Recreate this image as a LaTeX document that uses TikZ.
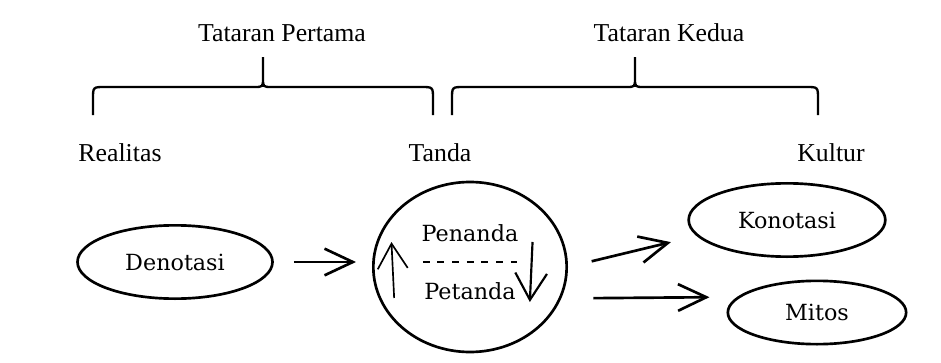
\documentclass[tikz,border=0pt]{standalone}
\usepackage{fontspec}
\setmainfont{Liberation Serif}
\newfontfamily\isifont{DejaVu Serif}
\usetikzlibrary{shapes.geometric,arrows.meta,calc}
\newcommand{\kurawal}[3]{%
  \draw[brace line](#1,115)--(#1,99)..controls(#1,87)..(#1+12,87)--(#2-9,87)..controls(#2,87)..(#2,78)--(#2,57)
    (#2,78)..controls(#2,87)..(#2+9,87)--(#3-12,87)..controls(#3,87)..(#3,99)--(#3,115);}
\begin{document}
\begin{tikzpicture}[x=0.03cm,y=-0.03cm,
    label/.style={font=\fontsize{22}{26}\selectfont},
    bubble/.style={ellipse,draw,line width=0.8mm,inner sep=0pt,font=\isifont\fontsize{19}{23}\selectfont},
    isi/.style={inner sep=0pt,font=\isifont\fontsize{19}{23}\selectfont},
    brace line/.style={line width=0.7mm},
    arr/.style={-{Straight Barb[length=8.5mm,width=8mm]},line width=0.8mm}]
    \useasboundingbox(0,0)rectangle(941,363);
    % tataran
    \node[label](tp1)at(282,33){Tataran Pertama};
    \node[label](tp2)at(669,33){Tataran Kedua};
    \kurawal{93}{263}{433}
    \kurawal{452}{635}{818}
    \node[label](real)at(120,153){Realitas};
    \node[label](tanda)at(440,153){Tanda};
    \node[label](kultur)at(831,153){Kultur};
    % bagan
    \node[bubble,minimum width=5.85cm,minimum height=2.2cm](den)at(175,262){Denotasi};
    \node[bubble,minimum width=5.8cm,minimum height=5.1cm](sign)at(470,267){};
    \node[bubble,minimum width=5.9cm,minimum height=2.2cm](kon)at(787,220){Konotasi};
    \node[bubble,minimum width=5.35cm,minimum height=1.9cm](mit)at(817,312.5){Mitos};
    \node[isi](pn)at(470,233){Penanda};
    \node[isi](pt)at(470,291){Petanda};
    \draw[dash pattern=on 2.1mm off 2.3mm,line width=0.45mm]($(pn.west)!.5!(pt.west)$)--($(pn.east)!.5!(pt.east)$);
    \draw[-{Straight Barb[length=7.5mm,width=9mm]},line width=0.5mm]($(pt.west)+(-30,7)$)--($(pn.west)+(-30,9)$);
    \draw[-{Straight Barb[length=8mm,width=9.5mm]},line width=0.65mm]($(pn.east)+(14,9)$)--($(pt.east)+(14,11)$);
    \draw[arr,shorten <=6mm,shorten >=4.8mm](den.east)--(den.east-|sign.west);
    \draw[arr,shorten <=7.3mm,shorten >=7.9mm](sign.east)--(kon.190);
    \draw[arr,shorten <=9.6mm,shorten >=8.3mm](sign.-19)--(mit.169.6);
\end{tikzpicture}
\end{document}
